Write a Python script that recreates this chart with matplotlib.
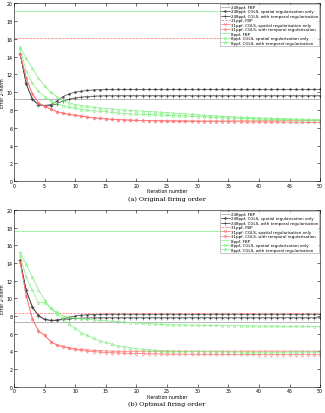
import numpy as np
import matplotlib
matplotlib.use("Agg")
import matplotlib.pyplot as plt

# iteration numbers
iters = np.arange(1, 51)

labels = ["248ppf, FBP",
          "248ppf, CGLS, spatial regularisation only",
          "248ppf, CGLS, with temporal regularisation",
          "31ppf, FBP",
          "31ppf, CGLS, spatial regularisation only",
          "31ppf, CGLS, with temporal regularisation",
          "8ppf, FBP",
          "8ppf, CGLS, spatial regularisation only",
          "8ppf, CGLS, with temporal regularisation"]

# (a) original firing order
a_fbp = [9.2, 16.1, 19.1]
a_248_sp = [14.3, 10.9, 9.2, 8.6, 8.5, 8.6, 9.0, 9.5, 9.8, 10.0, 10.1, 10.2, 10.25, 10.28, 10.3,
            10.3, 10.3, 10.3, 10.3, 10.3, 10.3, 10.3, 10.3, 10.3, 10.3, 10.3, 10.3, 10.3, 10.3, 10.3,
            10.3, 10.3, 10.3, 10.3, 10.3, 10.3, 10.3, 10.3, 10.3, 10.3, 10.3, 10.3, 10.3, 10.3, 10.3,
            10.3, 10.3, 10.3, 10.3, 10.3]
a_248_tm = [14.3, 11.0, 9.2, 8.6, 8.5, 8.5, 8.7, 9.0, 9.2, 9.35, 9.45, 9.5, 9.55, 9.58, 9.6,
            9.6, 9.6, 9.6, 9.6, 9.6, 9.6, 9.6, 9.6, 9.6, 9.6, 9.6, 9.6, 9.6, 9.6, 9.6,
            9.6, 9.6, 9.6, 9.6, 9.6, 9.6, 9.6, 9.6, 9.6, 9.6, 9.6, 9.6, 9.6, 9.6, 9.6,
            9.6, 9.6, 9.6, 9.6, 9.6]
a_31_sp = [14.3, 11.6, 9.8, 8.8, 8.4, 8.1, 7.8, 7.65, 7.5, 7.4, 7.3, 7.2, 7.12, 7.06, 7.0,
           6.95, 6.91, 6.88, 6.85, 6.83, 6.81, 6.79, 6.77, 6.76, 6.75, 6.74, 6.73, 6.72, 6.71, 6.7,
           6.7, 6.69, 6.69, 6.68, 6.68, 6.67, 6.67, 6.66, 6.66, 6.65, 6.65, 6.64, 6.64, 6.63, 6.63,
           6.62, 6.62, 6.61, 6.61, 6.6]
a_31_tm = [14.3, 11.6, 9.8, 8.8, 8.4, 8.1, 7.8, 7.65, 7.5, 7.4, 7.3, 7.2, 7.12, 7.06, 7.0,
           6.95, 6.91, 6.88, 6.86, 6.84, 6.82, 6.81, 6.8, 6.79, 6.78, 6.78, 6.77, 6.77, 6.77, 6.76,
           6.76, 6.76, 6.76, 6.76, 6.76, 6.77, 6.77, 6.77, 6.77, 6.78, 6.78, 6.78, 6.78, 6.79, 6.79,
           6.79, 6.8, 6.8, 6.8, 6.8]
a_8_sp = [14.8, 12.4, 11.0, 10.1, 9.5, 9.0, 8.7, 8.5, 8.3, 8.2, 8.05, 7.95, 7.9, 7.85, 7.8,
          7.72, 7.66, 7.6, 7.56, 7.52, 7.49, 7.46, 7.44, 7.42, 7.4, 7.37, 7.34, 7.31, 7.28, 7.25,
          7.22, 7.19, 7.16, 7.13, 7.1, 7.08, 7.06, 7.04, 7.02, 7.0, 6.98, 6.96, 6.94, 6.92, 6.9,
          6.88, 6.86, 6.84, 6.82, 6.8]
a_8_tm = [15.1, 13.8, 12.7, 11.6, 10.7, 10.0, 9.5, 9.1, 8.8, 8.6, 8.5, 8.4, 8.3, 8.22, 8.15,
          8.1, 8.05, 8.0, 7.95, 7.9, 7.86, 7.82, 7.78, 7.74, 7.7, 7.65, 7.6, 7.55, 7.5, 7.45,
          7.41, 7.37, 7.33, 7.29, 7.25, 7.22, 7.19, 7.16, 7.13, 7.1, 7.08, 7.06, 7.04, 7.02, 7.0,
          6.98, 6.96, 6.94, 6.92, 6.9]

# (b) optimal firing order
b_fbp = [7.3, 8.3, 17.6]
b_248_sp = [14.3, 10.9, 9.0, 8.1, 7.6, 7.5, 7.55, 7.7, 7.85, 8.0, 8.08, 8.13, 8.16, 8.18, 8.2,
            8.2, 8.2, 8.2, 8.2, 8.2, 8.2, 8.2, 8.2, 8.2, 8.2, 8.2, 8.2, 8.2, 8.2, 8.2,
            8.2, 8.2, 8.2, 8.2, 8.2, 8.2, 8.2, 8.2, 8.2, 8.2, 8.2, 8.2, 8.2, 8.2, 8.2,
            8.2, 8.2, 8.2, 8.2, 8.2]
b_248_tm = [14.3, 10.9, 9.0, 8.0, 7.6, 7.5, 7.5, 7.6, 7.68, 7.73, 7.76, 7.78, 7.79, 7.8, 7.8,
            7.8, 7.8, 7.8, 7.8, 7.8, 7.8, 7.8, 7.8, 7.8, 7.8, 7.8, 7.8, 7.8, 7.8, 7.8,
            7.8, 7.8, 7.8, 7.8, 7.8, 7.8, 7.8, 7.8, 7.8, 7.8, 7.8, 7.8, 7.8, 7.8, 7.8,
            7.8, 7.8, 7.8, 7.8, 7.8]
b_31_sp = [14.1, 10.3, 7.7, 6.3, 5.8, 5.1, 4.7, 4.55, 4.4, 4.25, 4.2, 4.15, 4.1, 4.06, 4.03,
           4.01, 4.0, 4.0, 4.0, 4.0, 4.0, 4.0, 4.0, 4.0, 4.0, 4.0, 4.0, 4.0, 4.0, 4.0,
           4.0, 4.0, 4.0, 4.0, 4.0, 4.0, 4.0, 4.0, 4.0, 4.0, 4.0, 4.0, 4.0, 4.0, 4.0,
           4.0, 4.0, 4.0, 4.0, 4.0]
b_31_tm = [14.1, 10.3, 7.7, 6.3, 5.8, 5.1, 4.7, 4.5, 4.35, 4.2, 4.1, 4.0, 3.95, 3.9, 3.85,
           3.82, 3.79, 3.77, 3.75, 3.73, 3.72, 3.71, 3.7, 3.69, 3.68, 3.67, 3.67, 3.66, 3.66, 3.65,
           3.65, 3.65, 3.64, 3.64, 3.64, 3.63, 3.63, 3.63, 3.63, 3.62, 3.62, 3.62, 3.62, 3.61, 3.61,
           3.61, 3.61, 3.6, 3.6, 3.6]
b_8_sp = [14.8, 12.4, 10.9, 9.5, 9.5, 8.9, 8.4, 8.0, 7.85, 7.75, 7.68, 7.62, 7.56, 7.5, 7.45,
          7.4, 7.35, 7.3, 7.25, 7.2, 7.16, 7.12, 7.08, 7.04, 7.0, 6.99, 6.98, 6.97, 6.96, 6.95,
          6.94, 6.93, 6.92, 6.91, 6.9, 6.89, 6.88, 6.87, 6.86, 6.85, 6.84, 6.84, 6.83, 6.83, 6.82,
          6.82, 6.81, 6.81, 6.8, 6.8]
b_8_tm = [15.2, 13.9, 12.4, 11.0, 9.8, 8.9, 8.2, 7.6, 7.1, 6.6, 6.1, 5.8, 5.45, 5.2, 5.0,
          4.8, 4.62, 4.5, 4.4, 4.3, 4.22, 4.16, 4.11, 4.07, 4.04, 4.01, 3.99, 3.97, 3.96, 3.95,
          3.94, 3.93, 3.93, 3.92, 3.92, 3.91, 3.91, 3.91, 3.9, 3.9, 3.9, 3.9, 3.9, 3.9, 3.9,
          3.9, 3.9, 3.9, 3.9, 3.9]

gray = "#9a9a9a"
black = "#404040"
red = "#ff7070"
green = "#80f080"
fs = 3.4


def draw(ax, fbp, curves, caption):
    ax.axhline(fbp[0], color=gray, lw=0.5, label=labels[0])
    ax.plot(iters, curves[0], color=black, lw=0.5, marker=".", ms=1.5, label=labels[1])
    ax.plot(iters, curves[1], color=black, lw=0.5, marker="+", ms=2.2, mew=0.4, label=labels[2])
    ax.axhline(fbp[1], color=red, lw=0.5, ls="--", label=labels[3])
    ax.plot(iters, curves[2], color=red, lw=0.5, marker="x", ms=1.8, mew=0.4, label=labels[4])
    ax.plot(iters, curves[3], color=red, lw=0.5, marker="d", ms=1.8, mew=0.4, mfc="none", label=labels[5])
    ax.axhline(fbp[2], color=green, lw=0.5, label=labels[6])
    ax.plot(iters, curves[4], color=green, lw=0.5, marker="s", ms=1.8, mew=0.4, mfc="none", label=labels[7])
    ax.plot(iters, curves[5], color=green, lw=0.5, marker="^", ms=2.0, mew=0.4, mfc="none", label=labels[8])
    ax.set_xlim(0, 50)
    ax.set_ylim(0, 20)
    ax.set_xticks(range(0, 51, 5))
    ax.set_yticks(range(0, 21, 2))
    ax.tick_params(direction="in", top=True, right=True, labelsize=fs, length=2, width=0.4, pad=1)
    for s in ax.spines.values():
        s.set_linewidth(0.4)
    ax.set_xlabel("Iteration number", fontsize=fs, labelpad=0.5)
    ax.set_ylabel("Error 2-norm", fontsize=fs, labelpad=1)
    leg = ax.legend(loc="upper right", fontsize=2.9, frameon=True, fancybox=False,
                    borderpad=0.25, labelspacing=0.12, handlelength=2.2, handletextpad=0.3,
                    borderaxespad=0.2)
    leg.get_frame().set_linewidth(0.4)
    leg.get_frame().set_edgecolor("#808080")
    ax.text(0.5, -0.08, caption, transform=ax.transAxes, ha="center", va="top",
            fontsize=4.6, family="DejaVu Serif")


fig = plt.figure(figsize=(3.25, 4.14), dpi=100)
ax1 = fig.add_axes([0.043, 0.560, 0.942, 0.430])
ax2 = fig.add_axes([0.043, 0.064, 0.942, 0.426])

draw(ax1, a_fbp, [a_248_sp, a_248_tm, a_31_sp, a_31_tm, a_8_sp, a_8_tm], "(a) Original firing order")
draw(ax2, b_fbp, [b_248_sp, b_248_tm, b_31_sp, b_31_tm, b_8_sp, b_8_tm], "(b) Optimal firing order")

fig.savefig("out.png", dpi=100)
